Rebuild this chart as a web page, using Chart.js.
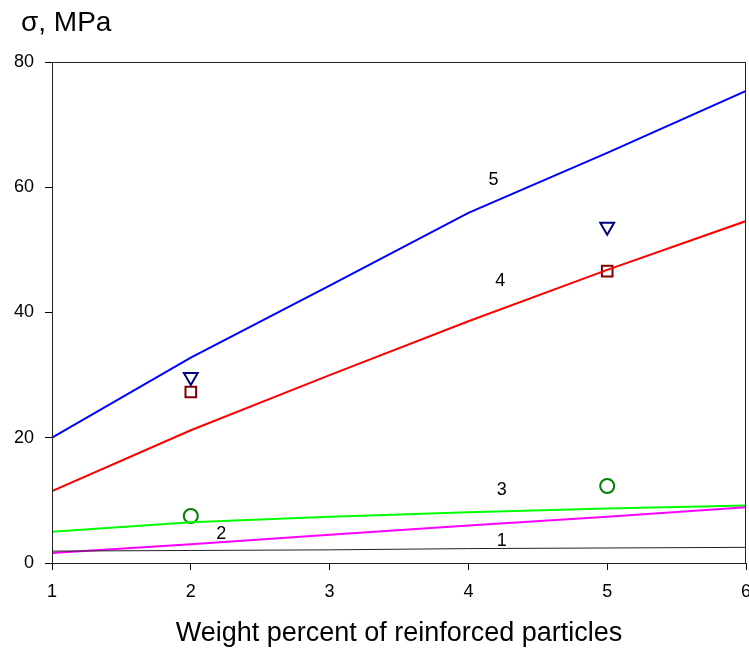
<!DOCTYPE html>
<html>
<head>
<meta charset="utf-8">
<script src="https://cdn.jsdelivr.net/npm/chart.js@4"></script>
<style>
html,body{margin:0;padding:0;background:#fff;}
#wrap{width:749px;height:650px;position:relative;}
</style>
</head>
<body>
<div id="wrap"><canvas id="c" width="749" height="650"></canvas></div>
<script>
// ---- data ----
const xValues = [1, 2, 3, 4, 5, 6];
const curve1 = [1.9, 2.0, 2.1, 2.3, 2.4, 2.5];
const curve2 = [1.6, 3.0, 4.5, 6.0, 7.4, 8.9];
const curve3 = [5.0, 6.5, 7.4, 8.1, 8.7, 9.2];
const curve4 = [11.5, 21.2, 30.0, 38.6, 46.8, 54.6];
const curve5 = [20.0, 32.8, 44.3, 55.9, 65.5, 75.4];

const expX = [2, 5];
const expTriangle = [29.7, 53.7];
const expSquare = [27.3, 46.6];
const expCircle = [7.5, 12.3];

const curveLabels = ['1', '2', '3', '4', '5'];
const curveLabelX = [4.24, 2.22, 4.24, 4.23, 4.18];
const curveLabelY = [3.5, 4.6, 11.7, 45.0, 61.2];

const xTicks = [1, 2, 3, 4, 5, 6];
const yTicks = [0, 20, 40, 60, 80];
const yTitle = 'σ, MPa';
const xTitle = 'Weight percent of reinforced particles';

const FONT = '"Liberation Sans", Arial, sans-serif';

function pts(xs, ys) { return xs.map((x, i) => ({ x: x, y: ys[i] })); }

function lineDs(data, color, width) {
  return { type: 'line', data: pts(xValues, data), borderColor: color, borderWidth: width,
    pointRadius: 0, tension: 0, fill: false };
}
function markDs(data, style, color, r, rot) {
  return { type: 'scatter', data: pts(expX, data), showLine: false, pointStyle: style,
    pointRadius: r, pointRotation: rot || 0, borderColor: color, pointBorderColor: color,
    backgroundColor: 'rgba(0,0,0,0)', pointBackgroundColor: 'rgba(0,0,0,0)', pointBorderWidth: 2 };
}

const decor = {
  id: 'decor',
  afterDraw(chart) {
    const ctx = chart.ctx, a = chart.chartArea;
    const xs = chart.scales.x, ys = chart.scales.y;
    ctx.save();
    // frame
    ctx.strokeStyle = '#222';
    ctx.lineWidth = 1;
    ctx.strokeRect(a.left + 0.5, a.top + 0.5, a.right - a.left - 1, a.bottom - a.top);
    ctx.fillStyle = '#000';
    ctx.textAlign = 'center';
    ctx.textBaseline = 'middle';
    // x tick labels (drawn here so the last label may overflow the canvas edge like the reference)
    ctx.font = '18px ' + FONT;
    xTicks.forEach(v => {
      ctx.fillText(String(v), xs.getPixelForValue(v), 592);
    });
    // curve labels
    curveLabels.forEach((t, i) => {
      ctx.fillText(t, xs.getPixelForValue(curveLabelX[i]), ys.getPixelForValue(curveLabelY[i]));
    });
    // titles
    ctx.font = '28px ' + FONT;
    ctx.textAlign = 'left';
    ctx.fillText(yTitle, 21, 23);
    ctx.font = '27px ' + FONT;
    ctx.textAlign = 'center';
    ctx.fillText(xTitle, 399, 634);
    ctx.restore();
  }
};

new Chart(document.getElementById('c'), {
  data: {
    datasets: [
      lineDs(curve1, '#222222', 1),
      lineDs(curve2, '#ff00ff', 2),
      lineDs(curve3, '#00ff00', 2),
      lineDs(curve4, '#ff0000', 2),
      lineDs(curve5, '#0000ff', 2),
      markDs(expTriangle, 'triangle', '#000080', 8, 180),
      markDs(expSquare, 'rect', '#800000', 7.5),
      markDs(expCircle, 'circle', '#008000', 7)
    ]
  },
  options: {
    responsive: false,
    animation: false,
    layout: { autoPadding: false, padding: { top: 62, right: 3, left: 0, bottom: 0 } },
    plugins: { legend: { display: false }, tooltip: { enabled: false } },
    scales: {
      x: {
        type: 'linear', min: 1, max: 6,
        afterBuildTicks(s) { s.ticks = xTicks.map(v => ({ value: v })); },
        afterFit(s) { s.height = 87; },
        grid: { display: true, drawOnChartArea: false, drawTicks: true, tickLength: 7, color: '#000' },
        border: { display: true, color: '#222' },
        ticks: { display: false }
      },
      y: {
        type: 'linear', min: 0, max: 80,
        afterBuildTicks(s) { s.ticks = yTicks.map(v => ({ value: v })); },
        afterFit(s) { s.width = 52; },
        grid: { display: true, drawOnChartArea: false, drawTicks: true, tickLength: 7, color: '#000' },
        border: { display: true, color: '#222' },
        ticks: { color: '#000', font: { family: FONT, size: 18 }, padding: 11 }
      }
    }
  },
  plugins: [decor]
});
</script>
</body>
</html>
